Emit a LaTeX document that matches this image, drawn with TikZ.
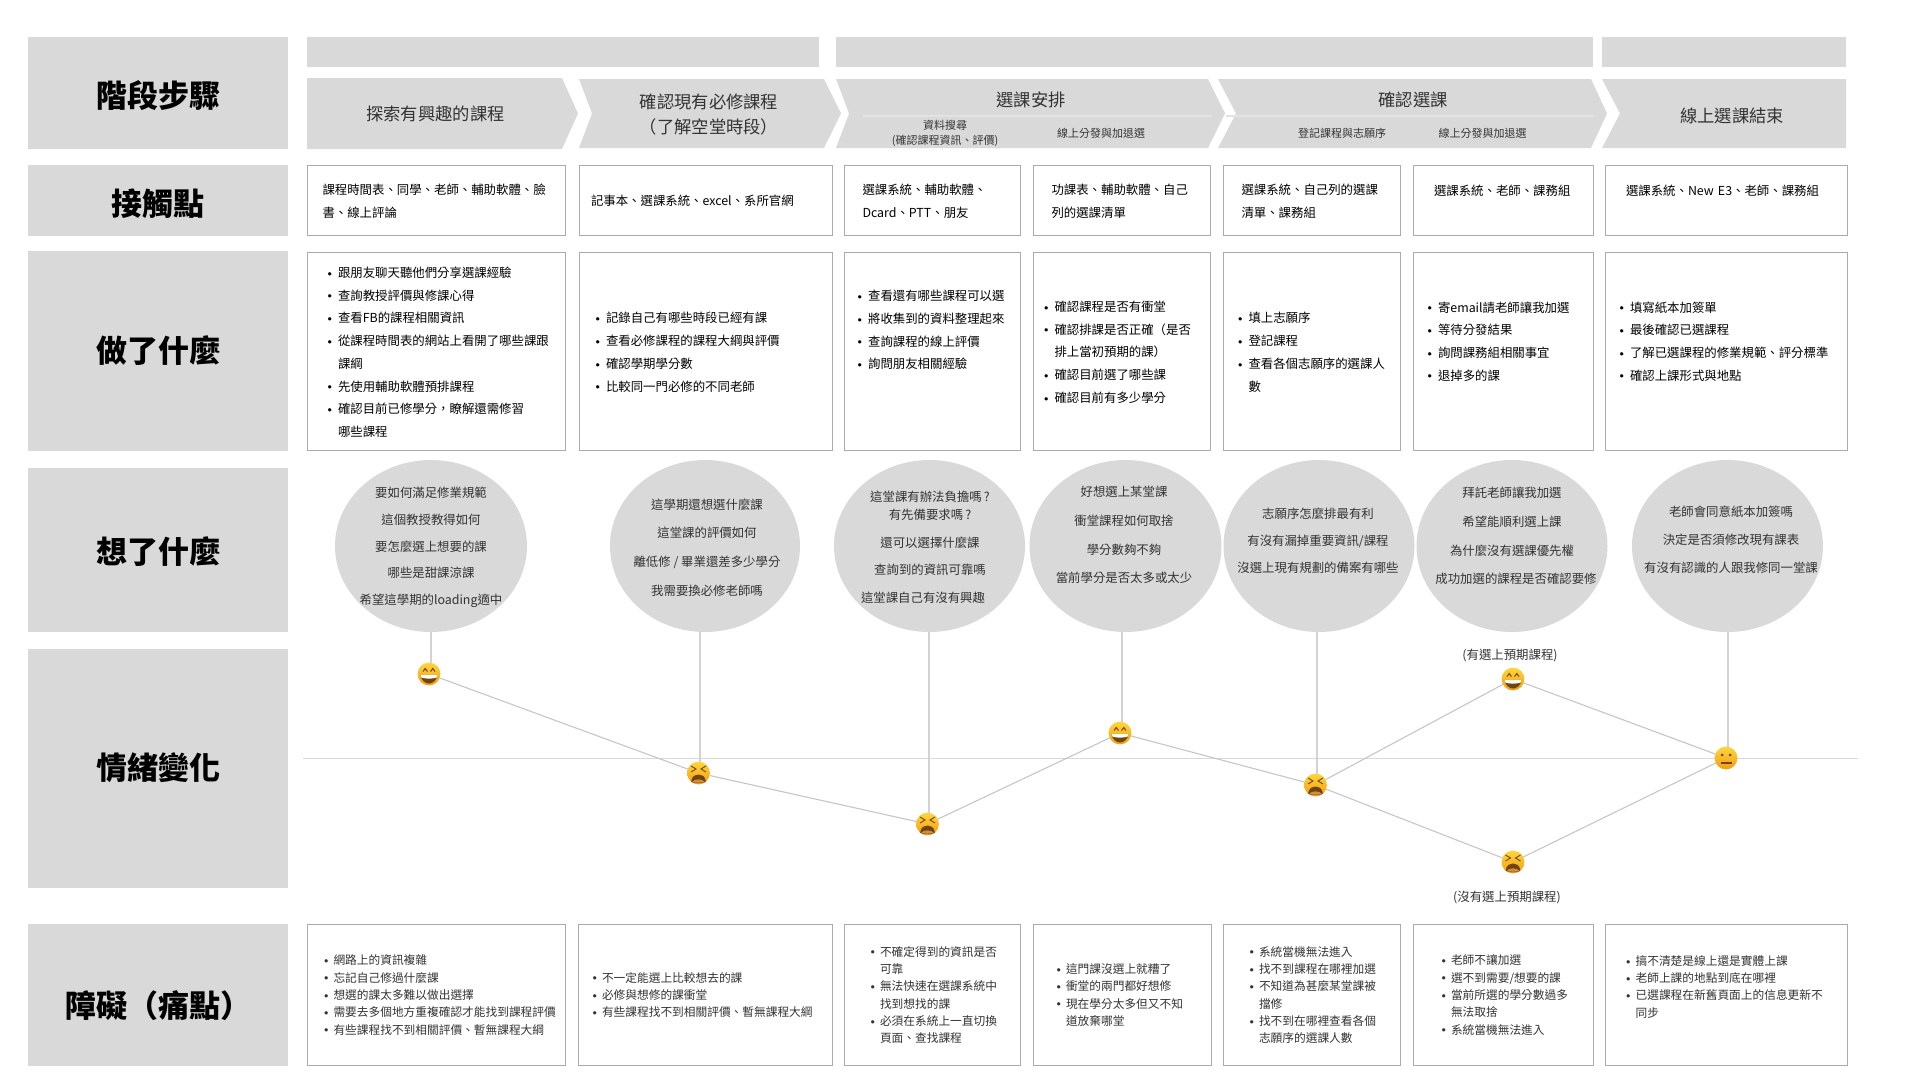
\documentclass[tikz,border=0pt]{standalone}
\usepackage{fontspec}
\setmainfont{Noto Sans CJK TC}
\usepackage{xcolor}
\usetikzlibrary{shapes.geometric}
\definecolor{panelgray}{HTML}{D9D9D9}
\definecolor{cellline}{HTML}{ABABAB}
\definecolor{linkgray}{HTML}{D2D2D2}
\definecolor{moodgray}{HTML}{C6C6C6}
\definecolor{bodytext}{HTML}{333333}
\definecolor{faceedge}{HTML}{F59C12}
\definecolor{facemid}{HTML}{FFD63C}
\definecolor{facedark}{HTML}{6E4510}
\newcommand{\dotmark}{\raisebox{1.3pt}{\scalebox{.72}{$\bullet$}}}
\newcommand{\bul}{\makebox[10pt][l]{\hspace*{-.5pt}\dotmark}}
\newcommand{\hang}{\hspace*{10pt}}
\newcommand{\tbul}{\makebox[9pt][l]{\hspace*{-.5pt}\dotmark}}
\newcommand{\thang}{\hspace*{9pt}}
\lineskiplimit=-20pt
\tikzset{
	panel/.style={fill=panelgray, inner sep=0pt, outer sep=0pt, anchor=north west},
	headbox/.style n args={2}{panel, minimum width=#1pt, minimum height=#2pt},
	headtext/.style={inner sep=0pt, font=\fontsize{31}{36}\selectfont\bfseries},
	banner/.style n args={2}{panel, minimum width=#1pt, minimum height=#2pt},
	cell/.style n args={3}{draw=cellline, line width=.8pt, fill=white, inner sep=0pt, outer sep=0pt, anchor=north west, align=left,
		minimum width=#1pt, minimum height=#2pt, text width=#1pt-2*#3pt},
	touchbox/.style n args={2}{cell={#1}{70.5}{#2}, font=\fontsize{12.4}{22.7}\selectfont, execute at end node=\vspace*{-2pt}},
	actbox/.style n args={2}{cell={#1}{198.5}{#2}, font=\fontsize{12.4}{22.7}\selectfont, execute at end node=\vspace*{-2pt}},
	painbox/.style n args={2}{cell={#1}{141}{#2}, font=\fontsize{11.7}{17.3}\selectfont, text=bodytext},
	bubble/.style={ellipse, fill=panelgray, inner sep=0pt, outer sep=0pt, minimum width=192pt, minimum height=172pt},
	thought/.style={align=center, inner sep=0pt, text=bodytext, font=\fontsize{12.4}{#1}\selectfont},
	stagetext/.style={align=center, inner sep=0pt, text=bodytext, font=\fontsize{17.3}{25.2}\selectfont},
	subtext/.style={align=center, inner sep=0pt, text=bodytext, font=\fontsize{11}{15.7}\selectfont},
	pathnote/.style={inner sep=0pt, text=bodytext, font=\fontsize{12.4}{15}\selectfont},
	link/.style={draw=linkgray, line width=1.5pt},
	moodline/.style={draw=moodgray, line width=1.1pt},
	face/.style={circle, minimum size=22.8pt, inner sep=0pt, outer sep=0pt, top color=facemid, bottom color=faceedge},
	happy/.style={face, path picture={
		\begin{scope}[shift={(path picture bounding box.center)}, x=1pt, y=1pt]
			\draw[facedark, line width=1pt] (-6,2.5) -- (-3.8,5.5) -- (-1.6,2.5) (1.6,2.5) -- (3.8,5.5) -- (6,2.5);
			\fill[facedark] (-8.5,-.5) .. controls (-4,-1.5) and (4,-1.5) .. (8.5,-.5) .. controls (8,-7) and (3,-9.5) .. (0,-9.5) .. controls (-3,-9.5) and (-8,-7) .. (-8.5,-.5) -- cycle;
			\fill[white] (-8.5,-.5) .. controls (-4,-1.5) and (4,-1.5) .. (8.5,-.5) -- (7.6,-3.6) .. controls (3,-5) and (-3,-5) .. (-7.6,-3.6) -- cycle;
		\end{scope}}},
	tired/.style={face, path picture={
		\begin{scope}[shift={(path picture bounding box.center)}, x=1pt, y=1pt]
			\draw[facedark, line width=.9pt] (-7.5,7) -- (-2.5,4) -- (-7.5,1) (7.5,7) -- (2.5,4) -- (7.5,1);
			\fill[facedark] (-7.5,-9) .. controls (-6.5,-2.5) and (-3,-1.5) .. (0,-1.5) .. controls (3,-1.5) and (6.5,-2.5) .. (7.5,-9) .. controls (3,-10.5) and (-3,-10.5) .. (-7.5,-9) -- cycle;
			\fill[white!35!orange!70!facedark] (-6.6,-9) .. controls (-4,-5.5) and (4,-5.5) .. (6.6,-9) .. controls (3,-10) and (-3,-10) .. (-6.6,-9) -- cycle;
		\end{scope}}},
	flat/.style={face, path picture={
		\begin{scope}[shift={(path picture bounding box.center)}, x=1pt, y=1pt]
			\fill[facedark] (-4,3) circle[radius=1.5pt] (4,3) circle[radius=1.5pt];
			\draw[facedark, line width=1.2pt] (-5.5,-5) -- (5.5,-5);
		\end{scope}}}
}
\begin{document}
\begin{tikzpicture}[x=1pt, y=-1pt]
	\useasboundingbox (0,0) rectangle (1920,1080);

	\node[headbox={260}{112}] (headStage) at (28,37) {};
	\node[headbox={260}{71}] (headTouch) at (28,165) {};
	\node[headbox={260}{200}] (headDo) at (28,251) {};
	\node[headbox={260}{164}] (headThink) at (28,468) {};
	\node[headbox={260}{239}] (headMood) at (28,649) {};
	\node[headbox={260}{142}] (headPain) at (28,924) {};

	\node[headtext] (titleStage) at (158,95.5) {階段步驟};
	\node[headtext] (titleTouch) at (158,204) {接觸點};
	\node[headtext] (titleDo) at (158,351) {做了什麼};
	\node[headtext] (titleThink) at (158,552) {想了什麼};
	\node[headtext] (titleMood) at (158,767.5) {情緒變化};
	\node[headtext] (titlePain) at (158,1006) {障礙（痛點）};

	\node[banner={512}{30}] (bannerA) at (307,37) {};
	\node[banner={757}{30}] (bannerB) at (836,37) {};
	\node[banner={244}{30}] (bannerC) at (1602,37) {};

	\fill[panelgray] (307,78) -- (562,78) -- (578,113.5) -- (562,149) -- (307,149) -- cycle;
	\fill[panelgray] (579,79) -- (824,79) -- (841,113.5) -- (824,148) -- (579,148) -- (592,113.5) -- cycle;
	\fill[panelgray] (836,79) -- (1208,79) -- (1225,113.5) -- (1208,148) -- (836,148) -- (849,113.5) -- cycle;
	\fill[panelgray] (1218,79) -- (1591,79) -- (1607,113.5) -- (1591,148) -- (1218,148) -- (1236,113.5) -- cycle;
	\fill[panelgray] (1602,79) -- (1846,79) -- (1846,148) -- (1602,148) -- (1620,113.5) -- cycle;
	\draw[white!25!panelgray, line width=1.5pt] (863,116) -- (1212,116);
	\draw[white!25!panelgray, line width=1.5pt] (1226,116) -- (1594,116);

	\node[stagetext] (stageA) at (435.5,114) {探索有興趣的課程};
	\node[stagetext] (stageB) at (709,114.5) {確認現有必修課程\\（了解空堂時段）};
	\node[stagetext] (stageC) at (1031,100) {選課安排};
	\node[stagetext] (stageD) at (1413,100) {確認選課};
	\node[stagetext] (stageE) at (1732,116) {線上選課結束};
	\node[subtext] (subA) at (945,133.5) {資料搜尋\\(確認課程資訊、評價)};
	\node[subtext] (subB) at (1101,133) {線上分發與加退選};
	\node[subtext] (subC) at (1342,133) {登記課程與志願序};
	\node[subtext] (subD) at (1482.5,133) {線上分發與加退選};

	\node[touchbox={258.5}{15.5}] (touchA) at (307,165) {課程時間表、同學、老師、輔助軟體、臉\\書、線上評論};
	\node[touchbox={253}{12}] (touchB) at (579,165) {記事本、選課系統、excel、系所官網};
	\node[touchbox={175.5}{18}] (touchC) at (844.5,165) {選課系統、輔助軟體、\\Dcard、PTT、朋友};
	\node[touchbox={177}{18.5}] (touchD) at (1033,165) {功課表、輔助軟體、自己\\列的選課清單};
	\node[touchbox={176.5}{18}] (touchE) at (1223.5,165) {選課系統、自己列的選課\\清單、課務組};
	\node[touchbox={180}{21}] (touchF) at (1413,165) {選課系統、老師、課務組\\~};
	\node[touchbox={242}{21}] (touchG) at (1605,165) {選課系統、New E3、老師、課務組\\~};

	\node[actbox={258.5}{21}] (doA) at (307,252) {%
		\bul 跟朋友聊天聽他們分享選課經驗\\
		\bul 查詢教授評價與修課心得\\
		\bul 查看FB的課程相關資訊\\
		\bul 從課程時間表的網站上看開了哪些課跟\\
		\hang 課綱\\
		\bul 先使用輔助軟體預排課程\\
		\bul 確認目前已修學分，瞭解還需修習\\
		\hang 哪些課程};
	\node[actbox={253}{17}] (doB) at (579,252) {%
		\bul 記錄自己有哪些時段已經有課\\
		\bul 查看必修課程的課程大綱與評價\\
		\bul 確認學期學分數\\
		\bul 比較同一門必修的不同老師};
	\node[actbox={175.5}{13.6}] (doC) at (844.5,252) {%
		\bul 查看還有哪些課程可以選\\
		\bul 將收集到的資料整理起來\\
		\bul 查詢課程的線上評價\\
		\bul 詢問朋友相關經驗\\~\\~};
	\node[actbox={177}{11.5}] (doD) at (1033,252) {%
		\bul 確認課程是否有衝堂\\
		\bul 確認排課是否正確（是否\\
		\hang 排上當初預期的課）\\
		\bul 確認目前選了哪些課\\
		\bul 確認目前有多少學分};
	\node[actbox={176.5}{15}] (doE) at (1223.5,252) {%
		\bul 填上志願序\\
		\bul 登記課程\\
		\bul 查看各個志願序的選課人\\
		\hang 數};
	\node[actbox={180}{15}] (doF) at (1413,252) {%
		\bul 寄email請老師讓我加選\\
		\bul 等待分發結果\\
		\bul 詢問課務組相關事宜\\
		\bul 退掉多的課\\~};
	\node[actbox={242}{15}] (doG) at (1605,252) {%
		\bul 填寫紙本加簽單\\
		\bul 最後確認已選課程\\
		\bul 了解已選課程的修業規範、評分標準\\
		\bul 確認上課形式與地點\\~};

	\node[bubble, minimum width=192pt] (bubbleA) at (431,546) {};
	\node[bubble, minimum width=190pt] (bubbleB) at (705,546) {};
	\node[bubble, minimum width=191pt] (bubbleC) at (929.5,546) {};
	\node[bubble, minimum width=192pt] (bubbleD) at (1125.5,546) {};
	\node[bubble, minimum width=191pt] (bubbleE) at (1319,546) {};
	\node[bubble, minimum width=191pt] (bubbleF) at (1512,546) {};
	\node[bubble, minimum width=191pt] (bubbleG) at (1727.5,546) {};

	\node[thought=26.7] (thoughtA) at (431,547.5) {要如何滿足修業規範\\這個教授教得如何\\要怎麼選上想要的課\\哪些是甜課涼課\\希望這學期的loading適中};
	\node[thought=28.6] (thoughtB) at (707,547.5) {這學期還想選什麼課\\這堂課的評價如何\\離低修 / 畢業還差多少學分\\我需要換必修老師嗎};
	\node[thought=27.5] (thoughtC) at (930,547) {這堂課有辦法負擔嗎\,?\\[-9pt]有先備要求嗎\,?\\還可以選擇什麼課\\查詢到的資訊可靠嗎\\這堂課自己有沒有興趣\hspace*{14pt}};
	\node[thought=28.6] (thoughtD) at (1124,535) {好想選上某堂課\\衝堂課程如何取捨\\學分數夠不夠\\當前學分是否太多或太少};
	\node[thought=27.2] (thoughtE) at (1318,540.5) {志願序怎麼排最有利\\有沒有漏掉重要資訊/課程\\沒選上現有規劃的備案有哪些};
	\node[thought=28.8] (thoughtF) at (1512,536) {拜託老師讓我加選\\希望能順利選上課\\為什麼沒有選課優先權\\\hspace*{8pt}成功加選的課程是否確認要修};
	\node[thought=28.2] (thoughtG) at (1731,540) {老師會同意紙本加簽嗎\\決定是否須修改現有課表\\有沒有認識的人跟我修同一堂課};

	\coordinate (baseL) at (303,758);
	\coordinate (baseR) at (1858,758);
	\draw[draw=panelgray, line width=1pt] (baseL) -- (baseR);

	\node[happy] (moodA) at (429,674) {};
	\node[tired] (moodB) at (698.5,773) {};
	\node[tired] (moodC) at (927.5,824) {};
	\node[happy] (moodD) at (1120,733) {};
	\node[tired] (moodE) at (1315.5,785) {};
	\node[happy] (moodUp) at (1513,679) {};
	\node[tired] (moodDown) at (1513,862) {};
	\node[flat] (moodG) at (1726,758) {};

	\draw[link] ([xshift=2pt]moodA.north) -- ([xshift=2pt]moodA.north |- bubbleA.south);
	\draw[link] ([xshift=1.5pt]moodB.north) -- ([xshift=1.5pt]moodB.north |- bubbleB.south);
	\draw[link] ([xshift=1.5pt]moodC.north) -- ([xshift=1.5pt]moodC.north |- bubbleC.south);
	\draw[link] ([xshift=2pt]moodD.north) -- ([xshift=2pt]moodD.north |- bubbleD.south);
	\draw[link] ([xshift=1.5pt]moodE.north) -- ([xshift=1.5pt]moodE.north |- bubbleE.south);
	\draw[link] ([xshift=2pt]moodG.north) -- ([xshift=2pt]moodG.north |- bubbleG.south);

	\draw[moodline] (moodA) -- (moodB);
	\draw[moodline] (moodB) -- (moodC);
	\draw[moodline] (moodC) -- (moodD);
	\draw[moodline] (moodD) -- (moodE);
	\draw[moodline] (moodE) -- (moodUp);
	\draw[moodline] (moodE) -- (moodDown);
	\draw[moodline] (moodUp) -- (moodG);
	\draw[moodline] (moodDown) -- (moodG);

	\node[pathnote] (noteUp) at (1510,655) {(有選上預期課程)};
	\node[pathnote] (noteDown) at (1507,897) {(沒有選上預期課程)};

	\node[painbox={258.5}{17.5}] (painA) at (307,924.5) {%
		\tbul 網路上的資訊複雜\\
		\tbul 忘記自己修過什麼課\\
		\tbul 想選的課太多難以做出選擇\\
		\tbul 需要去多個地方重複確認才能找到課程評價\\
		\tbul 有些課程找不到相關評價、暫無課程大綱};
	\node[painbox={254}{15}] (painB) at (578,924.5) {%
		\tbul 不一定能選上比較想去的課\\
		\tbul 必修與想修的課衝堂\\
		\tbul 有些課程找不到相關評價、暫無課程大綱};
	\node[painbox={176.5}{27}] (painC) at (844,924.5) {%
		\tbul 不確定得到的資訊是否\\
		\thang 可靠\\
		\tbul 無法快速在選課系統中\\
		\thang 找到想找的課\\
		\tbul 必須在系統上一直切換\\
		\thang 頁面、查找課程};
	\node[painbox={178}{24}] (painD) at (1033,924.5) {%
		\tbul 這門課沒選上就糟了\\
		\tbul 衝堂的兩門都好想修\\
		\tbul 現在學分太多但又不知\\
		\thang 道放棄哪堂};
	\node[painbox={177.5}{27}] (painE) at (1223,924.5) {%
		\tbul 系統當機無法進入\\
		\tbul 找不到課程在哪裡加選\\
		\tbul 不知道為甚麼某堂課被\\
		\thang 擋修\\
		\tbul 找不到在哪裡查看各個\\
		\thang 志願序的選課人數};
	\node[painbox={180}{29}] (painF) at (1413,924.5) {%
		\tbul 老師不讓加選\\
		\tbul 選不到需要/想要的課\\
		\tbul 當前所選的學分數過多\\
		\thang 無法取捨\\
		\tbul 系統當機無法進入};
	\node[painbox={241.8}{21}] (painG) at (1605.6,924.5) {%
		\tbul 搞不清楚是線上還是實體上課\\
		\tbul 老師上課的地點到底在哪裡\\
		\tbul 已選課程在新舊頁面上的信息更新不\\
		\thang 同步\\~};
\end{tikzpicture}
\end{document}
